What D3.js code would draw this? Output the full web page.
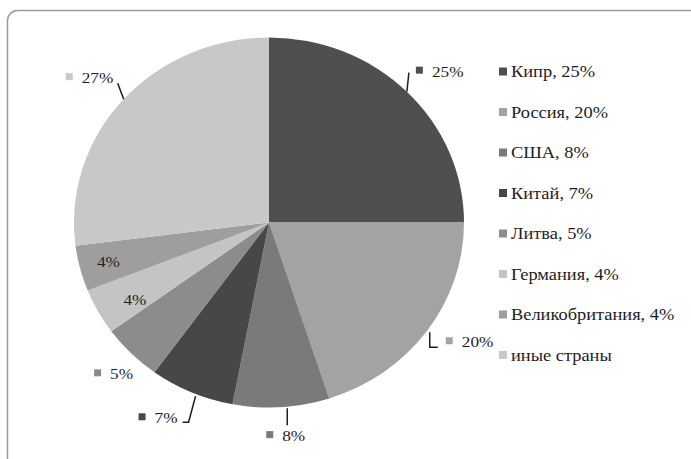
<!DOCTYPE html>
<html>
<head>
<meta charset="utf-8">
<script src="https://cdn.jsdelivr.net/npm/d3@7"></script>
<style>
  html, body { margin: 0; padding: 0; background: #fff; }
  svg { display: block; }
</style>
</head>
<body>
<svg id="chart" width="691" height="459"></svg>
<script>
// Доля стран в структуре (проценты)
const countries = ["Кипр", "Россия", "США", "Китай", "Литва", "Германия", "Великобритания", "иные страны"];
const shares = [25, 20, 8, 7, 5, 4, 4, 27];
const legendLabels = ["Кипр, 25%", "Россия, 20%", "США, 8%", "Китай, 7%", "Литва, 5%", "Германия, 4%", "Великобритания, 4%", "иные страны"];
const sliceColors = ["#4f4f4f", "#a3a3a3", "#7a7a7a", "#474747", "#8c8c8c", "#c4c4c4", "#9e9e9e", "#c8c8c8"];

const W = 691, H = 459;
const cx = 269, cy = 222.5, rx = 195, ry = 185;
const FONT = "'Liberation Serif', 'DejaVu Serif', 'Times New Roman', serif";
const STRETCH = 1.15;

const svg = d3.select("#chart");

// frame
svg.append("rect")
  .attr("x", 7.5).attr("y", 10.5)
  .attr("width", 720).attr("height", 480)
  .attr("rx", 10)
  .attr("fill", "none")
  .attr("stroke", "#9a9a9a")
  .attr("stroke-width", 1.5);

const pie = d3.pie().sort(null).value(d => d)(shares);
const arc = d3.arc().innerRadius(0).outerRadius(ry);

// pie, slightly wider than tall
svg.append("g")
  .attr("transform", `translate(${cx},${cy}) scale(${rx / ry},1)`)
  .selectAll("path")
  .data(pie)
  .join("path")
  .attr("d", arc)
  .attr("fill", (d, i) => sliceColors[i]);

const mid = d => (d.startAngle + d.endAngle) / 2;
const edgePoint = (d, k = 1) => [cx + Math.sin(mid(d)) * rx * k, cy - Math.cos(mid(d)) * ry * k];

function addText(g, x, y, str, size, anchor) {
  return g.append("text")
    .attr("transform", `translate(${x},${y}) scale(${STRETCH},1)`)
    .attr("text-anchor", anchor || "start")
    .attr("font-family", FONT)
    .attr("font-size", size)
    .attr("fill", "#1e1e1e")
    .text(str);
}

// label placement: offset of the text origin from the slice edge, leader-line path
const placement = [
  { dx: 25, dy: -15, line: p => [[p[0], p[1]], [p[0] + 2, p[1] - 19]] },
  { dx: 35, dy: 16, line: p => [[p[0] + 3, p[1] + 1], [p[0] + 3, p[1] + 16], [p[0] + 11, p[1] + 16]] },
  { dx: 1, dy: 34, line: p => [[p[0] + 6, p[1] + 1], [p[0] + 6, p[1] + 18]] },
  { dx: -37, dy: 31, line: p => [[p[0] + 4, p[1] + 4], [p[0] - 3, p[1] + 30], [p[0] - 9, p[1] + 30]] },
  { dx: -21, dy: 26, line: null },
  { inside: 0.82, dx: 6, dy: 4 },
  { inside: 0.85, dx: 0, dy: 0 },
  { dx: -41, dy: -17, line: p => [[p[0] + 1, p[1] - 1], [p[0] - 5, p[1] - 17]] }
];

const labels = svg.append("g");
pie.forEach((d, i) => {
  const pl = placement[i];
  const txt = shares[i] + "%";
  if (pl.inside) {
    const p = edgePoint(d, pl.inside);
    addText(labels, p[0] + pl.dx, p[1] + 5 + pl.dy, txt, 15, "middle");
    return;
  }
  const p = edgePoint(d);
  if (pl.line) {
    labels.append("path")
      .attr("d", d3.line()(pl.line(p)))
      .attr("fill", "none")
      .attr("stroke", "#1e1e1e")
      .attr("stroke-width", 1.5);
  }
  const tx = p[0] + pl.dx, ty = p[1] + pl.dy;
  labels.append("rect")
    .attr("x", tx - 16).attr("y", ty - 10)
    .attr("width", 7).attr("height", 7)
    .attr("fill", sliceColors[i]);
  addText(labels, tx, ty, txt, 15);
});

// legend
const legend = svg.append("g");
const rowY = d3.scalePoint().domain(d3.range(countries.length)).range([72, 355.5]);
countries.forEach((c, i) => {
  const y = rowY(i);
  legend.append("rect")
    .attr("x", 499).attr("y", y - 4.5)
    .attr("width", 8).attr("height", 8)
    .attr("fill", sliceColors[i]);
  addText(legend, 511, y + 5, legendLabels[i], 16);
});
</script>
</body>
</html>
